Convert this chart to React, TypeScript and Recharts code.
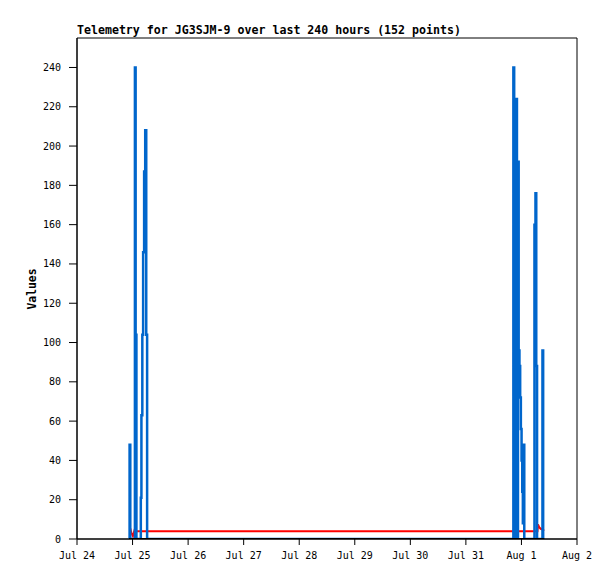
import React from "react";
import { ComposedChart, Line, XAxis, YAxis, ReferenceArea } from "recharts";

// hours since Jul 24 00:00
const dayLabels = ["Jul 24", "Jul 25", "Jul 26", "Jul 27", "Jul 28", "Jul 29", "Jul 30", "Jul 31", "Aug 1", "Aug 2"];
const hourTicks = [0, 24, 48, 72, 96, 120, 144, 168, 192, 216];
const valueTicks = [0, 20, 40, 60, 80, 100, 120, 140, 160, 180, 200, 220, 240];

// channel 1 (blue)
const blueTimes = [
  22.46, 22.72, 23.02, 24.81, 25.02, 25.33, 25.67, 27.36, 27.57, 27.83, 28.22, 28.57, 29.0, 29.47, 29.91, 30.29,
  188.12, 188.51, 188.86, 189.07, 189.72, 190.06, 190.28, 190.5, 190.8, 191.14, 191.45, 191.75, 192.05, 192.35,
  192.61, 192.87, 193.22, 197.28, 197.62, 198.06, 198.4, 198.75, 200.82, 201.08, 201.38,
];
const blueValues = [
  0, 48, 0, 0, 240, 104, 0, 0, 21, 63, 104, 146, 187, 208, 104, 0,
  0, 240, 192, 0, 224, 192, 0, 192, 96, 88, 72, 56, 40, 24,
  8, 48, 0, 0, 160, 176, 88, 0, 0, 96, 0,
];

// channel 2 (red)
const redTimes = [22.98, 23.54, 24.15, 24.84, 25.57, 198.92, 199.14, 199.65, 200.3, 201.17, 201.81];
const redValues = [5.5, 3, 1.5, 4.5, 4, 4, 7.5, 6, 5.2, 4.8, 4.2];

// channel 3 (black)
const blackTimes = [22.46, 201.9];
const blackValues = [0, 0];

type Row = { t: number; b?: number; r?: number; z?: number };

function buildRows(): Row[] {
  const map = new Map<number, Row>();
  const put = (t: number, key: "b" | "r" | "z", v: number) => {
    const row = map.get(t) ?? { t };
    row[key] = v;
    map.set(t, row);
  };
  blueTimes.forEach((t, i) => put(t, "b", blueValues[i]));
  redTimes.forEach((t, i) => put(t, "r", redValues[i]));
  blackTimes.forEach((t, i) => put(t, "z", blackValues[i]));
  return [...map.values()].sort((a, b) => a.t - b.t);
}

const rows = buildRows();

const MONO = "'DejaVu Sans Mono', monospace";
const tickStyle = { fill: "#000", fontSize: 10, fontFamily: MONO };

export default function App() {
  return (
    <div style={{ position: "absolute", left: 0, top: 0, width: 615, height: 579, background: "#fff" }}>
      <div
        style={{
          position: "absolute",
          left: 77,
          top: 23,
          fontFamily: MONO,
          fontWeight: "bold",
          fontSize: 11.6,
          lineHeight: "14px",
          whiteSpace: "nowrap",
        }}
      >
        Telemetry for JG3SJM-9 over last 240 hours (152 points)
      </div>
      <div
        style={{
          position: "absolute",
          left: 32,
          top: 289,
          transform: "translate(-50%, -50%) rotate(-90deg)",
          fontFamily: MONO,
          fontWeight: "bold",
          fontSize: 11.4,
          whiteSpace: "nowrap",
        }}
      >
        Values
      </div>
      <ComposedChart width={615} height={579} data={rows} margin={{ top: 38, right: 38, bottom: 0, left: 0 }}>
        <XAxis
          dataKey="t"
          type="number"
          domain={[0, 216]}
          ticks={hourTicks}
          interval={0}
          tickFormatter={(h: number) => dayLabels[Math.round(h / 24)]}
          height={40}
          tickSize={6}
          tickMargin={7}
          axisLine={{ stroke: "#000" }}
          tickLine={{ stroke: "#000" }}
          tick={tickStyle}
          allowDataOverflow
        />
        <YAxis
          type="number"
          domain={[0, 255]}
          ticks={valueTicks}
          interval={0}
          width={77}
          tickSize={8}
          tickMargin={8}
          axisLine={{ stroke: "#000" }}
          tickLine={{ stroke: "#000" }}
          tick={tickStyle}
          allowDataOverflow
        />
        <ReferenceArea x1={0} x2={216} y1={0} y2={255} fill="none" stroke="#000" strokeWidth={1} />
        <Line dataKey="r" type="linear" stroke="#ff0000" strokeWidth={2} dot={false} connectNulls isAnimationActive={false} />
        <Line dataKey="b" type="stepAfter" stroke="#0066cc" strokeWidth={2.5} dot={false} connectNulls isAnimationActive={false} />
        <Line dataKey="z" type="linear" stroke="#000" strokeWidth={2} dot={false} connectNulls isAnimationActive={false} />
      </ComposedChart>
    </div>
  );
}
